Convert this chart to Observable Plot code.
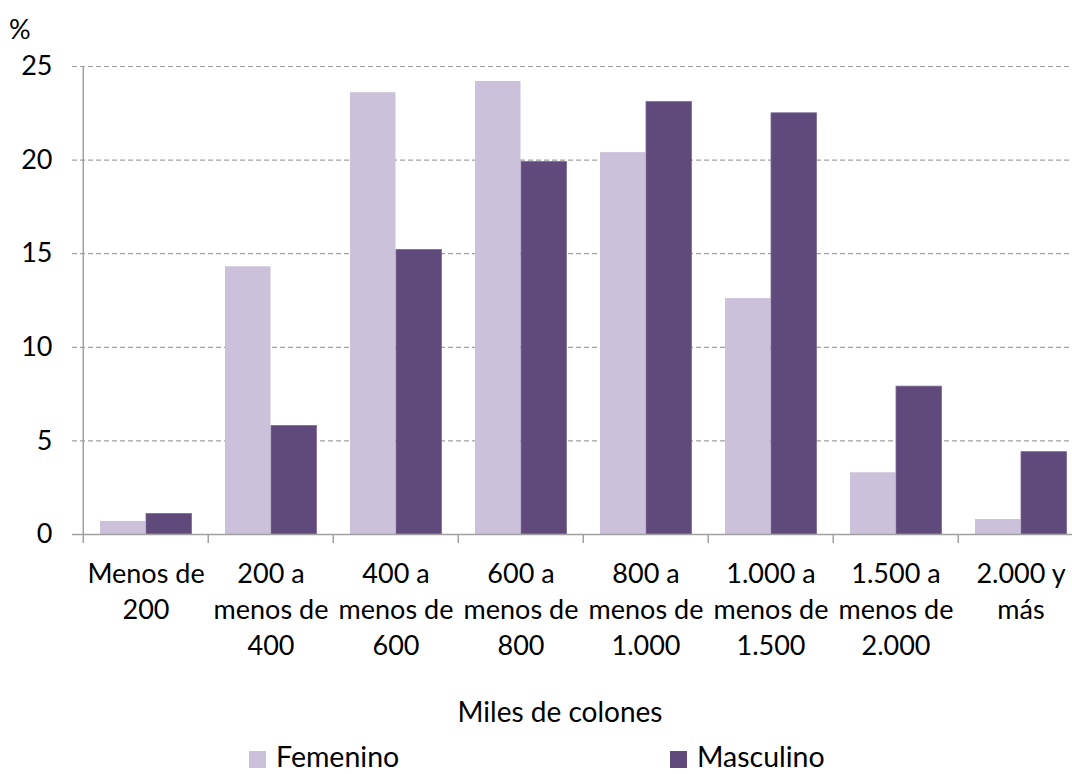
<!DOCTYPE html>
<html>
<head>
<meta charset="utf-8">
<script src="https://cdn.jsdelivr.net/npm/d3@7"></script>
<script src="https://cdn.jsdelivr.net/npm/@observablehq/plot@0.6"></script>
<style>
  html, body { margin: 0; padding: 0; overflow: hidden; background: #fff; }
  #wrap { position: relative; width: 1072px; height: 774px; overflow: hidden; font-family: Lato, "Open Sans", sans-serif; color: #000; }
  #chart { position: absolute; left: 0; top: 0; width: 1085px; }
  #chart svg { max-width: none !important; }
  .lbl { position: absolute; font-size: 27px; line-height: 22px; white-space: nowrap; }
  .leg { font-size: 28.5px; }
  .sw { position: absolute; width: 17px; height: 17px; }
</style>
</head>
<body>
<div id="wrap">
  <div id="chart"></div>
  <div class="lbl" style="left:9px; top:18px;">%</div>
  <div class="lbl" style="left:560px; top:700px; font-size:28px; transform: translateX(-50%);">Miles de colones</div>
  <div class="sw" style="left:249px; top:751px; background:#CCC1DA;"></div>
  <div class="lbl leg" style="left:276px; top:745px;">Femenino</div>
  <div class="sw" style="left:670px; top:751px; background:#604A7B;"></div>
  <div class="lbl leg" style="left:697px; top:745px;">Masculino</div>
</div>
<script>
const categories = [
  "Menos de\n200",
  "200 a\nmenos de\n400",
  "400 a\nmenos de\n600",
  "600 a\nmenos de\n800",
  "800 a\nmenos de\n1.000",
  "1.000 a\nmenos de\n1.500",
  "1.500 a\nmenos de\n2.000",
  "2.000 y\nmás"
];
const femenino = [0.7, 14.3, 23.6, 24.2, 20.4, 12.6, 3.3, 0.8];
const masculino = [1.1, 5.8, 15.2, 19.9, 23.1, 22.5, 7.9, 4.4];
const yTicks = [0, 5, 10, 15, 20, 25];

const rows = categories.map((c, i) => ({category: c, F: femenino[i], M: masculino[i]}));

const W = 1085, mL = 81, mR = 0;
const bw = (W - mL - mR) / categories.length;
const axisGray = "#a0a0a0";

const chart = Plot.plot({
  width: W,
  height: 680,
  marginTop: 66,
  marginLeft: mL,
  marginRight: mR,
  marginBottom: 146,
  x: {domain: categories, padding: 0, axis: null, label: null},
  y: {domain: [0, 25], axis: null, label: null},
  style: {fontFamily: "Lato, 'Open Sans', sans-serif", fontSize: "27px", color: "#000", background: "transparent", overflow: "visible", maxWidth: "none"},
  marks: [
    Plot.ruleY(yTicks.slice(1), {y: d => d, stroke: axisGray, strokeWidth: 1.2, strokeDasharray: "5,3", insetLeft: -9}),
    Plot.barY(rows, {x: "category", y: "F", fill: "#CCC1DA", insetLeft: 17, insetRight: bw - 63}),
    Plot.barY(rows, {x: "category", y: "M", fill: "#604A7B", stroke: "#7d6c96", strokeWidth: 0.8, insetLeft: 63, insetRight: bw - 109}),
    Plot.ruleY([0], {y: d => d, stroke: axisGray, strokeWidth: 1.5, insetLeft: -9}),
    Plot.ruleX([categories[0]], {x: d => d, y1: 0, y2: 25, dx: -bw / 2, stroke: axisGray, strokeWidth: 1.5}),
    Plot.ruleX(categories, {x: d => d, y1: 0, y2: 0, insetBottom: -9, dx: -bw / 2, stroke: axisGray, strokeWidth: 1.5}),
    Plot.axisY({ticks: yTicks, tickSize: 0, tickPadding: 29, fontSize: 27, fill: "#000", label: null}),
    Plot.axisX({tickSize: 0, tickPadding: 23, lineHeight: 1.33, fontSize: 27, fill: "#000", label: null})
  ]
});
document.getElementById("chart").appendChild(chart);
</script>
</body>
</html>
